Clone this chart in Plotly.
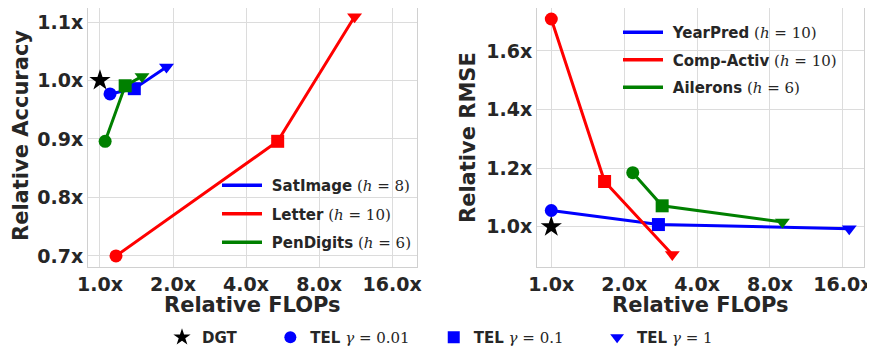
import plotly.graph_objects as go

W, H = 875, 347

# ---------------- data ----------------
tick_vals = [1, 2, 4, 8, 16]
tick_text = ["1.0x", "2.0x", "4.0x", "8.0x", "16.0x"]

acc_ticks = [0.7, 0.8, 0.9, 1.0, 1.1]
acc_tick_text = ["0.7x", "0.8x", "0.9x", "1.0x", "1.1x"]
rmse_ticks = [1.0, 1.2, 1.4, 1.6]
rmse_tick_text = ["1.0x", "1.2x", "1.4x", "1.6x"]

# classification (left): [gamma=0.01, gamma=0.1, gamma=1]
satimage_flops = [1.10, 1.385, 1.88]
satimage_acc = [0.977, 0.986, 1.023]
letter_flops = [1.164, 5.40, 11.2]
letter_acc = [0.700, 0.896, 1.109]
pendigits_flops = [1.05, 1.27, 1.49]
pendigits_acc = [0.896, 0.991, 1.007]

# regression (right)
yearpred_flops = [1.0, 2.77, 17.0]
yearpred_rmse = [1.055, 1.007, 0.993]
compactiv_flops = [1.0, 1.66, 3.16]
compactiv_rmse = [1.709, 1.154, 0.905]
ailerons_flops = [2.17, 2.87, 9.0]
ailerons_rmse = [1.184, 1.071, 1.016]

dgt_flops = [1.0]
dgt_left = [1.0]
dgt_right = [1.0]

left_names = ["SatImage", "Letter", "PenDigits"]
left_h = [8, 10, 6]
right_names = ["YearPred", "Comp-Activ", "Ailerons"]
right_h = [10, 10, 6]
colors = ["#0000ff", "#ff0000", "#008000"]
symbols = ["circle", "square", "triangle-down"]
gammas = ["0.01", "0.1", "1"]

TXT = "#262626"
GRID = "#dcdcdc"
SANS = "DejaVu Sans"
SERIF = "DejaVu Serif"

# the page body adds an 8px offset; compensate so positions match the target
OX, OY = 8, 8

fig = go.Figure()

def add_series(xs, ys, color, xa, ya):
    fig.add_trace(go.Scatter(
        x=xs, y=ys, mode="lines+markers", xaxis=xa, yaxis=ya,
        line=dict(color=color, width=3),
        marker=dict(color=color, symbol=symbols, size=[13, 13, 13], opacity=1,
                    line=dict(width=0)),
        showlegend=False, hoverinfo="skip"))

# DGT stars
fig.add_trace(go.Scatter(x=dgt_flops, y=dgt_left, mode="markers", xaxis="x", yaxis="y",
                         marker=dict(color="black", symbol="star", size=16, line=dict(width=0)),
                         showlegend=False))
fig.add_trace(go.Scatter(x=dgt_flops, y=dgt_right, mode="markers", xaxis="x2", yaxis="y2",
                         marker=dict(color="black", symbol="star", size=16, line=dict(width=0)),
                         showlegend=False))

for xs, ys, c in zip([satimage_flops, letter_flops, pendigits_flops],
                     [satimage_acc, letter_acc, pendigits_acc], colors):
    add_series(xs, ys, c, "x", "y")
for xs, ys, c in zip([yearpred_flops, compactiv_flops, ailerons_flops],
                     [yearpred_rmse, compactiv_rmse, ailerons_rmse], colors):
    add_series(xs, ys, c, "x2", "y2")

NB = "\u00a0"

def label(name, h):
    return (f"{NB}<b>{name}</b> <span style='font-family:{SERIF}'>(<i>h</i> = {h})</span>")

# legend entries (line only)
for i, (n, h, c) in enumerate(zip(left_names, left_h, colors)):
    fig.add_trace(go.Scatter(x=[None], y=[None], mode="lines", xaxis="x", yaxis="y",
                             line=dict(color=c, width=3.5), name=label(n, h),
                             legend="legend", legendgroup=f"l{i}"))
for i, (n, h, c) in enumerate(zip(right_names, right_h, colors)):
    fig.add_trace(go.Scatter(x=[None], y=[None], mode="lines", xaxis="x2", yaxis="y2",
                             line=dict(color=c, width=3.5), name=label(n, h),
                             legend="legend2", legendgroup=f"r{i}"))

# bottom shared legend
pads = [6, 4, 6, 0]
fig.add_trace(go.Scatter(x=[None], y=[None], mode="markers", xaxis="x", yaxis="y",
                         marker=dict(color="black", symbol="star", size=13),
                         name="<b>DGT</b>" + NB * pads[0], legend="legend3"))
for k, (s, g) in enumerate(zip(symbols, gammas)):
    fig.add_trace(go.Scatter(x=[None], y=[None], mode="markers", xaxis="x", yaxis="y",
                             marker=dict(color="#0000ff", symbol=s, size=12),
                             name=f"<b>TEL</b> <span style='font-family:{SERIF}'><i>γ</i> = {g}</span>"
                                  + NB * pads[k + 1],
                             legend="legend3"))

def px_x(p):
    return min(1.0, max(0.0, (p - OX) / W))

def px_y(p):
    return min(1.0, max(0.0, 1 - (p - OY) / H))

common_axis = dict(showgrid=True, gridcolor=GRID, gridwidth=1, zeroline=False,
                   showline=True, linecolor="#d0d0d0", linewidth=1, mirror=True,
                   ticks="", tickfont=dict(family=SANS, size=19, color=TXT, weight="bold"))

fig.update_layout(
    width=W, height=H,
    margin=dict(l=0, r=0, t=0, b=0, autoexpand=False),
    paper_bgcolor="white", plot_bgcolor="white",
    showlegend=True,
    xaxis=dict(type="log", domain=[px_x(88), px_x(417)], range=[-0.0494, 1.3066],
               tickvals=tick_vals, ticktext=tick_text, anchor="y", **common_axis),
    yaxis=dict(domain=[px_y(267), px_y(8)], range=[0.681, 1.124],
               tickvals=acc_ticks, ticktext=acc_tick_text, anchor="x", **common_axis),
    xaxis2=dict(type="log", domain=[px_x(537), px_x(864)], range=[-0.059, 1.2914],
                tickvals=tick_vals, ticktext=tick_text, anchor="y2", **common_axis),
    yaxis2=dict(domain=[px_y(267), px_y(8)], range=[0.862, 1.7466],
                tickvals=rmse_ticks, ticktext=rmse_tick_text, anchor="x2", **common_axis),
    legend=dict(x=px_x(217), y=px_y(169), xanchor="left", yanchor="top",
                bgcolor="rgba(0,0,0,0)", tracegroupgap=6, itemwidth=40,
                font=dict(family=SANS, size=15, color=TXT)),
    legend2=dict(x=px_x(618), y=px_y(16), xanchor="left", yanchor="top",
                 bgcolor="rgba(0,0,0,0)", tracegroupgap=5, itemwidth=40,
                 font=dict(family=SANS, size=15, color=TXT)),
    legend3=dict(x=px_x(162), y=px_y(321), xanchor="left", yanchor="top",
                 orientation="h", bgcolor="rgba(0,0,0,0)",
                 font=dict(family=SANS, size=15, color=TXT)),
)

# axis titles
title_font = dict(family=SANS, size=21, color=TXT, weight="bold")
for txt, cx, cy, ang in [("Relative Accuracy", 21, 136, -90),
                         ("Relative RMSE", 468, 138, -90),
                         ("Relative FLOPs", 252, 305, 0),
                         ("Relative FLOPs", 700, 305, 0)]:
    fig.add_annotation(text=txt, x=px_x(cx), y=px_y(cy), xref="paper", yref="paper",
                       xanchor="center", yanchor="middle",
                       textangle=ang, showarrow=False, font=title_font)

fig.write_html("out.html")
